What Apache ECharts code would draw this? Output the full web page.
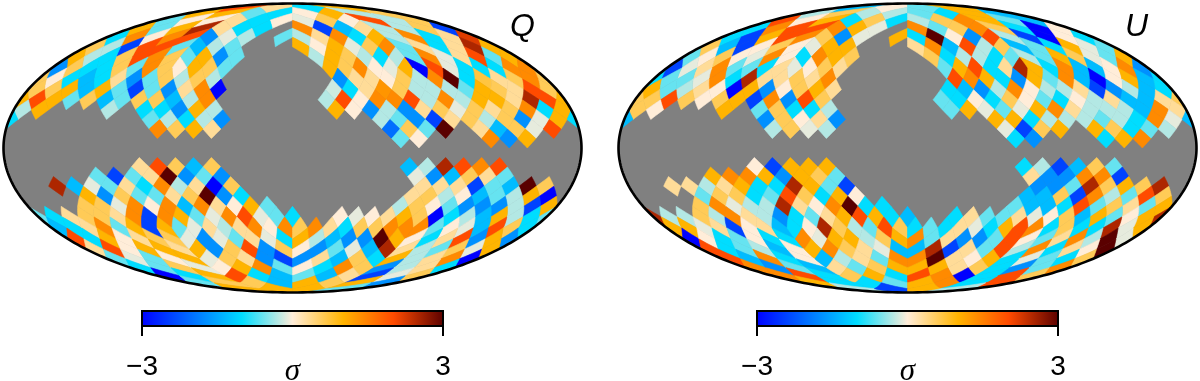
<!DOCTYPE html>
<html>
<head>
<meta charset="utf-8">
<script src="https://cdn.jsdelivr.net/npm/echarts@6/dist/echarts.min.js"></script>
<style>
html,body{margin:0;padding:0;background:#fff}
#chart{width:1200px;height:381px}
</style>
</head>
<body>
<div id="chart"></div>
<script>
var _ = null
// Q map, sigma per nside=8 ring, left to right as seen in the picture, null = masked
var q1 = [2,.3,-1,1]
var q2 = [1,1,-.6,-1,0,1,-.3,.6]
var q3 = [-.6,0,0,.3,-1,0,-.1,.6,0,2,-.3,.6]
var q4 = [1,-.6,1,2.5,.3,-1,-1,_,1.4,-2.4,-1.3,.3,-.3,-.3,.6,-2.4]
var q5 = [-1,1.4,0,1.4,2,-1.7,-.1,-.3,_,-.6,-.3,.3,1.4,-1,1,-.3,1.4,-1,.3,2.2]
var q6 = [.6,-.3,-2.4,2,2,-.6,-1.3,-.3,-.6,_,_,_,1,0,1,-.1,.6,1.4,-.6,.3,-1,.3,2.5,1]
var q7 = [1,-.3,-1,.6,2,1.4,.6,-.6,1,-1.7,-.6,_,_,_,_,-.3,1,.6,-.3,-1,-.3,-.6,1.4,-.1,.3,2,-.6,1]
var q8 = [-1.7,.6,-1,-1,.6,-.6,1.4,.6,0,1,.6,-.6,_,_,_,_,_,_,1,.6,1.4,0,-.1,1,-3,2,-.1,-1,-1,-1,1.4,1.4]
var q9 = [.6,0,-1,-1.3,-1,.3,-1.7,-.6,.6,-.3,.6,-.3,_,_,_,_,_,_,_,-1.7,.3,.3,0,.6,-.3,1.4,3,-1,.7,.3,.6,1.4]
var q10 = [.6,.6,1,-1.3,1,-.6,-2.4,-.6,-1.7,.3,1.4,-3,_,_,_,_,_,_,-.2,-1,.3,1.3,.6,-.3,-.3,-.3,-.6,1,.6,.3,2,.6]
var q11 = [1,2,1,-.6,.6,-1.3,-.6,.6,.6,-1.3,-.3,1.4,_,_,_,_,_,_,-.3,2,0,1.4,1.4,2,-.3,1.4,-.3,1,1,.3,2.5,2]
var q12 = [-.3,1,_,_,_,-.3,_,-1,-1,-1.7,1,-.3,_,_,_,_,_,_,1,0,-1.7,-.3,-1.7,.3,.6,-.1,.6,.3,.6,1.4,-1,1]
var q13 = [-1,_,_,_,_,_,_,_,-.6,-.3,-1,-.3,-1.7,_,_,_,_,_,_,_,_,-.3,-.6,-1.7,-2.4,.3,.6,-.3,.6,-1.7,-.1,1]
var q14 = [_,_,_,_,_,_,_,_,1.4,.6,1,.3,_,_,_,_,_,_,_,_,_,-2,.6,-.6,3,_,.3,-1.3,.6,-.1,2,_]
var q15 = [_,_,_,_,_,_,_,_,_,_,_,_,_,_,_,_,_,_,_,_,_,_,-.6,0,_,_,_,1.4,-1.7,1,_,_]
var q16 = []
var q17 = []
var q18 = [_,_,_,_,_,_,_,.3,2,.6,-1.3,.6,_,_,_,_,_,_,_,_,_,_,-1.3,-.3,2.5,2,1.4,2,_,_,_,_]
var q19 = [_,_,_,_,_,-.6,-2.4,-.6,.3,3,-1.7,-.6,-1.7,_,_,_,_,_,_,_,_,_,_,-.1,-1.7,-1.3,.6,.3,-.6,_,_,_]
var q20 = [_,_,2.5,-1.3,-.1,-.6,.3,-1,1.4,-.3,.3,-3,.6,_,_,_,_,_,_,_,_,_,_,.3,.3,.3,-2.4,-.6,-1.3,3,.6,_]
var q21 = [_,_,_,_,1,-1.7,.6,-.6,-.6,.3,.6,3,-1.7,-1,_,_,_,_,_,_,_,_,_,.3,.6,-.3,0,-1.3,-.6,-.3,1,-3]
var q22 = [_,_,_,.6,.6,-.1,1.4,0,1.4,-1.3,1.4,.3,0,1,-.6,_,_,_,_,_,_,_,-.3,.6,0,-.6,-1.7,-1.7,-1.7,-.3,-2.4,1]
var q23 = [-.6,-1,.3,.6,.6,.3,1.4,-2.4,1.4,1,-.6,-.1,1.4,2,-.1,-.6,-1,_,_,0,-.1,0,.3,1,.6,-3,-1,-.3,-1.3,1,-.3,-1]
var q24 = [-1.3,-1,.3,1.4,-.6,1,-2.4,1,-.6,-.1,.3,-.3,.3,1.4,0,1.4,.6,1.4,.3,-1,.6,.6,1.4,1.4,1.4,-.6,0,-.1,-1.3,2,.6,-1]
var q25 = [2,-1,1,0,.3,.6,.6,-.1,-1.7,-.1,-.6,.3,-.1,-1,1,-.3,-1.3,-1.7,-1.7,3,1,0,-1,.3,2,-1.7,1,-1.7]
var q26 = [.3,2,0,1,1,.3,1,-1.7,.6,2,-1.7,.6,0,-1.7,-.6,-.1,-1.3,2.5,.3,-.3,-.6,.6,-.1,1]
var q27 = [-.6,-.1,-.6,0,1,-.1,.6,.3,-1.7,-2.4,-1.7,.3,-1.3,.6,-1,1,-.3,.3,1.4,-3]
var q28 = [-1,-.6,.6,-.1,0,1,1.4,-.6,0,-1,1.4,.6,-1.7,-.3,.3,-1]
var q29 = [-3,-1,1,2,-1,-1.3,-.6,-1.3,.3,-2.4,-.1,.6]
var q30 = [-.6,.6,.6,-1.3,1,.6,1,-1.7]
var q31 = [1,1,1,-.6]

// U map, same layout
var u1 = [-1.3,0,-.6,1]
var u2 = [-.3,.6,-.3,-.3,-.6,-1,1,-1.3]
var u3 = [2,0,1,-1,.6,-1,-.3,.6,1.4,1,-.6,-1.3]
var u4 = [-1,1.4,2,2,1.4,1,-.1,_,1.4,-.6,.6,1.4,.6,-1,-3,0]
var u5 = [-1,-2.4,1,2,1.4,.6,-1.7,-.1,_,1,-1,3,0,-1.7,2,-.3,-2.4,-3,0,-1]
var u6 = [.6,-1.3,-2.4,0,.6,0,-.1,1,1,_,_,_,.3,1.4,-1.3,2,-.3,.6,-1.3,-.6,-1,1,-.1,-.6]
var u7 = [-.6,0,.6,0,-.1,1.4,0,-1,1.4,1,.6,_,_,_,_,.6,-1,-.3,-.3,-1,-.6,-.3,-.6,1,.6,-.1,-.6,1]
var u8 = [-2.4,-.1,.3,1.4,-.6,-.6,-1,.3,-.1,0,.6,.3,_,_,_,_,_,_,-.6,1,2,-1,.3,2.5,1,-1,1.4,-1.3,-1.3,0,1.4,-1.7]
var u9 = [-1,-.6,-.6,-.1,1.4,-1,2.5,.3,.3,.6,.3,1.4,_,_,_,_,_,_,_,2,1.4,1,-1,-1.7,1,-.6,1.4,-1.3,-3,0,1,-1.3]
var u10 = [1,-.6,-.3,.3,0,-3,1,-1.7,0,.6,1,.3,_,_,_,_,_,_,-1,-1.3,-1.7,-.3,1.4,0,-.3,-.3,.3,-2.4,-1.7,-.3,-1.3,-1]
var u11 = [.6,.6,2,.6,0,.6,1,-2.4,1.4,-1.7,2,.6,_,_,_,_,_,_,-.6,-1,0,-1,.6,0,-.6,-1,0,-.3,.3,-1.3,-1.3,.3]
var u12 = [.6,0,_,_,_,1,_,-.6,.6,-1,-1,-.3,_,_,_,_,_,_,-.6,1,-.1,-.6,-.1,1,1.4,.3,-.3,-.3,-.3,-1.3,1.4,.3]
var u13 = [-1.3,_,_,_,_,_,_,_,-1.7,.6,0,.3,-1.7,_,_,_,_,_,_,_,_,1,1,-1,-.3,-.3,-.3,-.6,-.3,-1,1.4,-.1]
var u14 = [_,_,_,_,_,_,_,_,-.3,.6,-.1,-.3,_,_,_,_,_,_,_,_,_,-.1,-2.4,.6,1,_,1,.6,-1,-.6,-.3,_]
var u15 = [_,_,_,_,_,_,_,_,_,_,_,_,_,_,_,_,_,_,_,_,_,_,-1,-1.7,_,_,_,-1,1,1.4,_,_]
var u16 = []
var u17 = []
var u18 = [_,_,_,_,_,_,_,0,-2.4,1,1,1,_,_,_,_,_,_,_,_,_,_,-1,-.3,-2.4,-1.3,.6,-.6,_,_,_,_]
var u19 = [_,_,_,_,_,1,1.4,1.4,1,-1.7,1,.6,-.6,_,_,_,_,_,_,_,_,_,_,.3,-1.7,-1.7,1.4,1.4,-2.4,_,_,_]
var u20 = [_,_,.3,.3,-.3,.3,1,-1,-1,2.5,1,-.6,-2.4,_,_,_,_,_,_,_,_,_,_,-1.7,-1.7,-.6,2.5,.6,1,.6,2.5,_]
var u21 = [_,_,_,_,-.6,.6,.6,-1,-.6,2,.6,-1,1,0,_,_,_,_,_,_,_,_,_,-1.3,-1.3,.6,-2.4,1.4,-.3,-.6,2,.6]
var u22 = [_,_,_,.6,1.4,-.1,-.3,-.3,2.5,.3,0,1.4,3,-1,-1,_,_,_,_,_,_,_,-.6,-1.3,-1.3,-1,2,-.6,.6,.3,-.6,1]
var u23 = [2.5,-.3,-.3,.6,-.3,1.4,.3,-.3,-1.7,-1,-.6,.3,1,2,1,-1,-1.3,_,_,-1,.3,-.6,-.6,.3,-.1,0,.6,-1.3,1,-.6,0,1]
var u24 = [1,1,-.1,.3,-2.4,0,.3,-1.3,-1,0,2.5,.6,-.3,-.6,2,.6,-1,-.6,-1,.3,-.1,-1,1,2,1.4,-1,.6,-1,-1,2.5,-.1,1]
var u25 = [-3,0,-1,-.6,0,-1,-1,1.4,-.1,1,1,-.3,.6,1,1.4,-.6,.3,-1.7,-1.7,-.6,2,0,-.6,.3,1.4,-.3,3,-.1]
var u26 = [2,-1,-.6,-.3,-1.3,0,1,1.4,.6,.3,-.1,-1.3,-1.3,2.5,-2.4,.3,-.6,2,-.3,1.4,-1,.3,0,3]
var u27 = [2,-1.3,1.4,-1,0,-1.3,-.3,.3,-.6,1.4,1.4,3,.3,0,1,-1,-.1,-.6,-1,.6]
var u28 = [1.4,-1.7,-.6,-1.3,.3,-.6,.6,1,1,1,.3,.6,-1,-1.7,-.6,1.4]
var u29 = [1.4,2,-1,.6,1,-1,2,1.4,-3,-1,2,.6]
var u30 = [1,-1,-1,-.6,1,1.4,-1,2]
var u31 = [-.3,-2.4,1,-.3]

var qRings = [q1,q2,q3,q4,q5,q6,q7,q8,q9,q10,q11,q12,q13,q14,q15,q16,q17,q18,q19,q20,q21,q22,q23,q24,q25,q26,q27,q28,q29,q30,q31]
var uRings = [u1,u2,u3,u4,u5,u6,u7,u8,u9,u10,u11,u12,u13,u14,u15,u16,u17,u18,u19,u20,u21,u22,u23,u24,u25,u26,u27,u28,u29,u30,u31]

// colour ramp of the bar
var rampValues = [-3,-1,0,1,2,3]
var rampColors = ['#0000ff','#00ddff','#ffedd9','#ffb400','#ff4b00','#5a0000']
var barTicks = [-3,3]
var NSIDE = 8
var PI = Math.PI

function hex2rgb(h){
	return [parseInt(h.substr(1,2),16),parseInt(h.substr(3,2),16),parseInt(h.substr(5,2),16)]
}
function sigmaColor(v){
	for(var i=0;i<rampValues.length-1;i++){
		if(v<=rampValues[i+1]){
			var t=(v-rampValues[i])/(rampValues[i+1]-rampValues[i])
			var a=hex2rgb(rampColors[i]),b=hex2rgb(rampColors[i+1])
			return 'rgb('+Math.round(a[0]+(b[0]-a[0])*t)+','+Math.round(a[1]+(b[1]-a[1])*t)+','+Math.round(a[2]+(b[2]-a[2])*t)+')'
		}
	}
	return rampColors[rampColors.length-1]
}

// pixel centres in the flat healpix plane
function ringToData(rings){
	var out=[]
	rings.forEach(function(vals,r){
		var ring=r+1
		var cap=Math.min(ring,32-ring)
		var ys=(16-ring)*PI/32
		vals.forEach(function(v,j){
			if(v===null)return
			var xs
			if(cap<NSIDE){
				var phi=-PI+(j+.5)*PI/(2*cap)
				var xc=-PI+(Math.floor((phi+PI)/(PI/2))+.5)*PI/2
				xs=xc+(phi-xc)*cap/NSIDE
			}else if(ring%2==0){
				xs=-PI+(j+.5)*PI/16
			}else{
				xs=-PI+j*PI/16
				if(j==0)out.push([PI,ys,v])
			}
			out.push([xs,ys,v])
		})
	})
	return out
}

function mollweide(lon,z){
	if(Math.abs(z)>.99999)return [0,z>0?Math.SQRT2:-Math.SQRT2]
	var target=PI*z,t=2*Math.asin(z)
	for(var i=0;i<30;i++){
		t-=(t+Math.sin(t)-target)/(1+Math.cos(t)+1e-9)
	}
	return [2*Math.SQRT2/PI*lon*Math.cos(t/2),Math.SQRT2*Math.sin(t/2)]
}
// flat plane point -> map point
function planeToMap(x,y,xc){
	var ay=Math.abs(y),lon=x,z
	if(ay<=PI/4){
		z=8*y/(3*PI)
	}else{
		var sig=4*ay/PI
		z=(1-(2-sig)*(2-sig)/3)*(y>0?1:-1)
		var f=(PI/2-ay)/(PI/4)
		lon=f<1e-6?xc:xc+(x-xc)/f
	}
	lon=Math.max(-PI,Math.min(PI,lon))
	return mollweide(lon,z)
}
function pixelItem(params,api){
	var x=api.value(0),y=api.value(1),h=PI/32
	var fx=Math.min(3,Math.max(0,Math.floor((x+PI-1e-9)/(PI/2))))
	var xc=-PI+(fx+.5)*PI/2
	var corners=[[x,y+h],[x+h,y],[x,y-h],[x-h,y]]
	var pts=[]
	for(var c=0;c<4;c++){
		var a=corners[c],b=corners[(c+1)%4]
		for(var s=0;s<5;s++){
			var m=planeToMap(a[0]+(b[0]-a[0])*s/5,a[1]+(b[1]-a[1])*s/5,xc)
			pts.push(api.coord(m))
		}
	}
	var col=sigmaColor(api.value(2))
	return {type:'polygon',shape:{points:pts},style:{fill:col,stroke:col,lineWidth:.6}}
}
function outlineItem(fill,stroke,lw){
	return function(params,api){
		var pts=[]
		for(var i=0;i<=360;i++){
			var a=i*PI/180
			pts.push(api.coord([2*Math.SQRT2*Math.cos(a),Math.SQRT2*Math.sin(a)]))
		}
		return {type:'polygon',shape:{points:pts},style:{fill:fill,stroke:stroke,lineWidth:lw}}
	}
}
function barItem(params,api){
	var a=api.coord([rampValues[0],1]),b=api.coord([rampValues[rampValues.length-1],0])
	var stops=rampValues.map(function(v,i){
		return {offset:(v-rampValues[0])/(rampValues[rampValues.length-1]-rampValues[0]),color:rampColors[i]}
	})
	return {type:'rect',shape:{x:a[0],y:a[1],width:b[0]-a[0],height:b[1]-a[1]},
		style:{fill:new echarts.graphic.LinearGradient(0,0,1,0,stops),stroke:'#000',lineWidth:2}}
}

var mapLeft=[3.5,618.5]
var barLeft=[142,757]
var grids=[],xAxes=[],yAxes=[],series=[]
;[qRings,uRings].forEach(function(rings,i){
	var g=i*2
	grids.push({left:mapLeft[i],top:3.5,width:578,height:289,outerBoundsMode:'none'})
	xAxes.push({gridIndex:g,type:'value',min:-2*Math.SQRT2,max:2*Math.SQRT2,show:false})
	yAxes.push({gridIndex:g,type:'value',min:-Math.SQRT2,max:Math.SQRT2,show:false})
	series.push({type:'custom',xAxisIndex:g,yAxisIndex:g,z:1,silent:true,data:[[0,0]],renderItem:outlineItem('#808080',null,0)})
	series.push({type:'custom',xAxisIndex:g,yAxisIndex:g,z:2,silent:true,data:ringToData(rings),encode:{x:0,y:1},renderItem:pixelItem})
	series.push({type:'custom',xAxisIndex:g,yAxisIndex:g,z:3,silent:true,data:[[0,0]],renderItem:outlineItem('none','#000',2.6)})
	// colour bar
	grids.push({left:barLeft[i],top:311,width:301,height:15,outerBoundsMode:'none'})
	xAxes.push({gridIndex:g+1,type:'value',min:-3,max:3,
		name:'σ',nameLocation:'middle',nameGap:30,nameMoveOverlap:false,
		nameTextStyle:{fontFamily:'Liberation Serif',fontStyle:'italic',fontSize:31,color:'#000'},
		axisLine:{show:false},splitLine:{show:false},
		axisTick:{show:true,length:10,customValues:barTicks,lineStyle:{color:'#000',width:2}},
		axisLabel:{show:true,customValues:barTicks,margin:27,fontFamily:'Liberation Sans',fontSize:28,color:'#000',
			formatter:function(v){return v<0?'−'+Math.abs(v):''+v}}
	})
	yAxes.push({gridIndex:g+1,type:'value',min:0,max:1,show:false})
	series.push({type:'custom',xAxisIndex:g+1,yAxisIndex:g+1,z:4,silent:true,data:[[0,0]],renderItem:barItem})
})

var chart=echarts.init(document.getElementById('chart'))
chart.setOption({
	animation:false,
	backgroundColor:'#fff',
	title:[
		{text:'Q',left:505,top:6,textStyle:{fontFamily:'Liberation Sans',fontStyle:'italic',fontWeight:'normal',fontSize:32,color:'#000'}},
		{text:'U',left:1120,top:6,textStyle:{fontFamily:'Liberation Sans',fontStyle:'italic',fontWeight:'normal',fontSize:32,color:'#000'}}
	],
	grid:grids,
	xAxis:xAxes,
	yAxis:yAxes,
	series:series
})
</script>
</body>
</html>
